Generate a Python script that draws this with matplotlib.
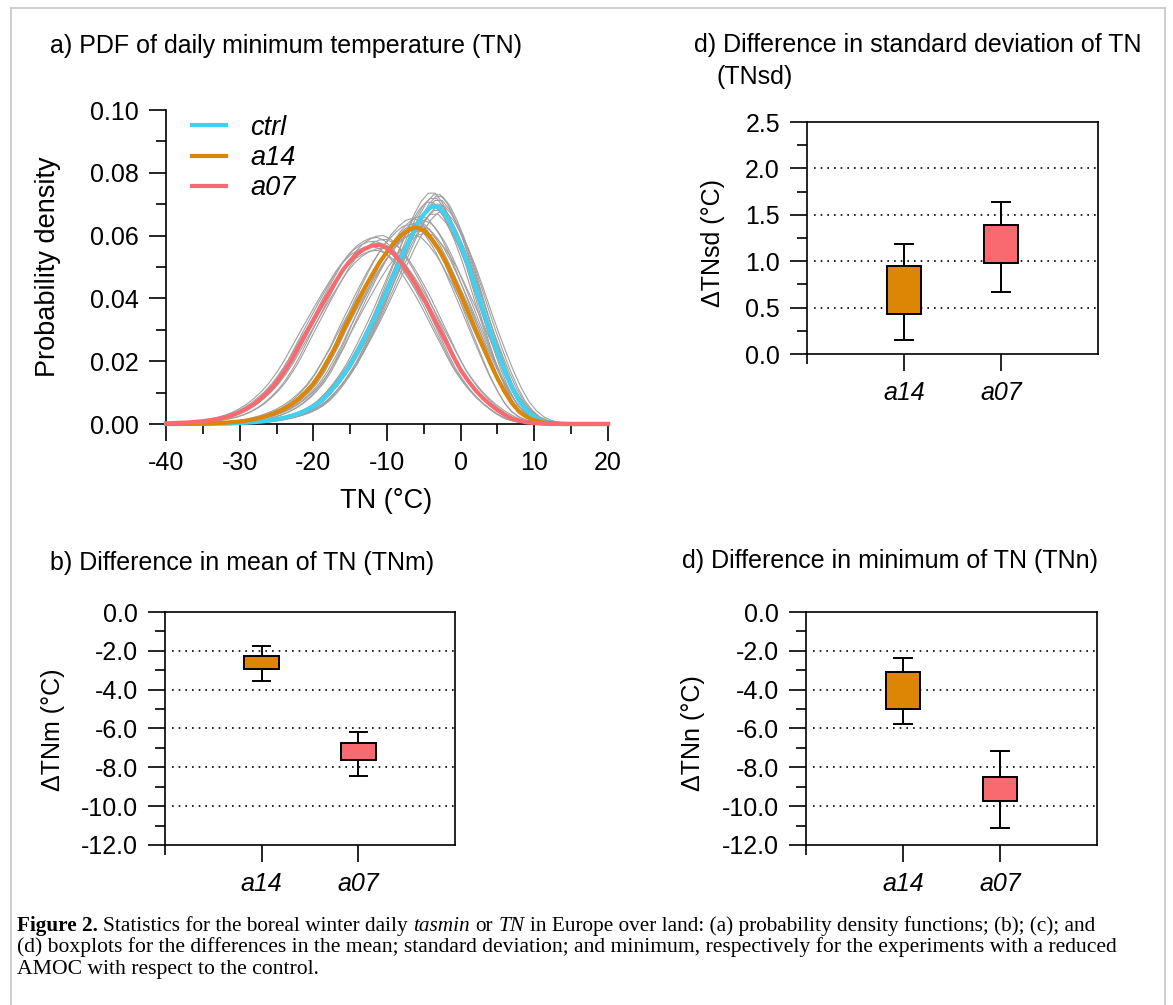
import numpy as np
import matplotlib
matplotlib.use("Agg")
import matplotlib.pyplot as plt
from matplotlib.lines import Line2D
from matplotlib.ticker import MultipleLocator, FormatStrFormatter, FixedLocator

plt.rcParams['font.family'] = ['Liberation Sans', 'DejaVu Sans']
plt.rcParams['axes.unicode_minus'] = False

W, H = 1173, 1005

# ---- panel a: PDFs of TN ----
temp = list(range(-40, 21))
pdf_ctrl = [0, 0, 0, 0, 0, 0, 0, 0.0001, 0.0001, 0.0002, 0.0003, 0.0004, 0.0006, 0.0008,
            0.0011, 0.0015, 0.0020, 0.0026, 0.0033, 0.0043, 0.0055, 0.0072, 0.0095, 0.0122,
            0.0153, 0.0188, 0.0230, 0.0275, 0.0322, 0.0372, 0.0425, 0.0478, 0.0530, 0.0583,
            0.0630, 0.0668, 0.0692, 0.0692, 0.0665, 0.0622, 0.0570, 0.0508, 0.0438, 0.0365,
            0.0295, 0.0230, 0.0168, 0.0115, 0.0072, 0.0042, 0.0022, 0.0011, 0.0005, 0.0002,
            0.0001, 0, 0, 0, 0, 0, 0]
pdf_a14 = [0, 0, 0, 0.0001, 0.0001, 0.0001, 0.0002, 0.0003, 0.0004, 0.0006, 0.0008, 0.0011,
           0.0015, 0.0021, 0.0028, 0.0037, 0.0048, 0.0062, 0.0080, 0.0102, 0.0128, 0.0162,
           0.0203, 0.0245, 0.0295, 0.0342, 0.0388, 0.0433, 0.0476, 0.0515, 0.0548, 0.0578,
           0.0602, 0.0620, 0.0626, 0.0618, 0.0592, 0.0558, 0.0515, 0.0465, 0.0412, 0.0358,
           0.0302, 0.0248, 0.0195, 0.0145, 0.0102, 0.0065, 0.0038, 0.0022, 0.0012, 0.0006,
           0.0003, 0.0001, 0, 0, 0, 0, 0, 0, 0]
pdf_a07 = [0.0002, 0.0003, 0.0004, 0.0005, 0.0007, 0.0009, 0.0012, 0.0016, 0.0021, 0.0028,
           0.0037, 0.0049, 0.0064, 0.0083, 0.0105, 0.0132, 0.0165, 0.0202, 0.0245, 0.0288,
           0.0330, 0.0372, 0.0413, 0.0452, 0.0490, 0.0520, 0.0543, 0.0558, 0.0568, 0.0570,
           0.0560, 0.0540, 0.0512, 0.0478, 0.0440, 0.0400, 0.0355, 0.0308, 0.0262, 0.0215,
           0.0172, 0.0138, 0.0108, 0.0083, 0.0062, 0.0044, 0.0029, 0.0017, 0.0010, 0.0005,
           0.0003, 0.0001, 0, 0, 0, 0, 0, 0, 0, 0, 0]

# ensemble members (grey): peak height and shift of peak (deg C)
ctrl_member_peak = [0.0735, 0.0730, 0.0724, 0.0718, 0.0712, 0.0706, 0.0700, 0.0694,
                    0.0688, 0.0680, 0.0674, 0.0668]
ctrl_member_shift = [-0.4, 0.3, 0.6, -0.2, 0.5, -0.7, 0.2, 0.8, -0.3, 0.4, 1.0, -0.1]
a14_member_peak = [0.0662, 0.0655, 0.0648, 0.0642, 0.0636, 0.0630, 0.0622, 0.0615,
                   0.0608, 0.0602]
a14_member_shift = [0.6, -0.5, 1.0, 0.2, -0.8, 0.7, -0.2, 0.4, 1.3, -0.4]
a07_member_peak = [0.0600, 0.0594, 0.0588, 0.0582, 0.0576, 0.0566, 0.0560, 0.0553]
a07_member_shift = [0.5, -0.3, 0.9, -0.6, 0.2, -0.9, 0.6, -0.2]

# ---- boxplots: [whislo, q1, median, q3, whishi] ----
experiments = ['a14', 'a07']
tnm_a14 = [-3.57, -2.95, -2.49, -2.28, -1.73]
tnm_a07 = [-8.43, -7.63, -7.22, -6.77, -6.19]
tnsd_a14 = [0.15, 0.43, 0.63, 0.95, 1.18]
tnsd_a07 = [0.67, 0.98, 1.19, 1.39, 1.64]
tnn_a14 = [-5.78, -4.99, -4.23, -3.09, -2.38]
tnn_a07 = [-11.13, -9.75, -9.21, -8.50, -7.17]

colors = {'ctrl': '#3dd1f2', 'a14': '#dd8505', 'a07': '#f86a6f'}
grey = '#9f9f9f'

tick_dict = {'direction': 'out', 'width': 1.2, 'labelsize': 18}


def px(x, y):
    return x / W, 1 - y / H


def add_axes(left, top, right, bottom):
    x0, y0 = px(left, bottom)
    x1, y1 = px(right, top)
    return fig.add_axes([x0, y0, x1 - x0, y1 - y0])


def draw_members(ax, curve, peaks, shifts):
    curve = np.array(curve)
    x = np.array(temp, dtype=float)
    xpk = x[np.argmax(curve)]
    for pk, sh in zip(peaks, shifts):
        s = pk / curve.max()
        ax.plot(xpk + (x - xpk) / s + sh, curve * s, color=grey, lw=0.8, zorder=2)


def box_panel(ax, data_a14, data_a07, ylim, major, minor, grid):
    stats = []
    for name, d in zip(experiments, [data_a14, data_a07]):
        stats.append({'label': name, 'whislo': d[0], 'q1': d[1], 'med': d[2],
                      'q3': d[3], 'whishi': d[4], 'fliers': []})
    for v in grid:
        ax.axhline(v, xmin=0.025, xmax=1, color='k', lw=1.2, dashes=(1, 3), zorder=1)
    bp = ax.bxp(stats, positions=[1, 2], widths=0.36, patch_artist=True,
                showfliers=False,
                boxprops={'linewidth': 1.4, 'edgecolor': 'k'},
                medianprops={'color': 'k', 'linewidth': 1.4},
                whiskerprops={'color': 'k', 'linewidth': 1.4},
                capprops={'color': 'k', 'linewidth': 1.4})
    for patch, name in zip(bp['boxes'], experiments):
        patch.set_facecolor(colors[name])
        patch.set_zorder(3)
    ax.set_xlim(0, 3)
    ax.set_ylim(*ylim)
    ax.yaxis.set_major_locator(MultipleLocator(major))
    ax.yaxis.set_minor_locator(MultipleLocator(minor))
    ax.yaxis.set_major_formatter(FormatStrFormatter('%.1f'))
    ax.xaxis.set_major_locator(FixedLocator([1, 2]))
    ax.xaxis.set_minor_locator(FixedLocator([0]))
    ax.set_xticklabels(experiments, fontstyle='italic')
    ax.tick_params(which='major', length=12.5, pad=7, **tick_dict)
    ax.tick_params(which='minor', length=7, **tick_dict)
    for sp in ax.spines.values():
        sp.set_linewidth(1.2)


fig = plt.figure(figsize=(W / 100, H / 100), dpi=100)

# outer frame
for xs, ys in [((11, 11), (1005, 8)), ((11, 1165), (8, 8)), ((1165, 1165), (8, 1005))]:
    p0, p1 = px(xs[0], ys[0]), px(xs[1], ys[1])
    fig.add_artist(Line2D([p0[0], p1[0]], [p0[1], p1[1]], color='#c6c6c6', lw=1.2))

# panel a
ax_a = add_axes(166, 110, 608, 424)
draw_members(ax_a, pdf_ctrl, ctrl_member_peak, ctrl_member_shift)
draw_members(ax_a, pdf_a14, a14_member_peak, a14_member_shift)
draw_members(ax_a, pdf_a07, a07_member_peak, a07_member_shift)
ax_a.plot(temp, pdf_ctrl, color=colors['ctrl'], lw=3, label='ctrl', zorder=4, clip_on=False)
ax_a.plot(temp, pdf_a14, color=colors['a14'], lw=3, label='a14', zorder=4, clip_on=False)
ax_a.plot(temp, pdf_a07, color=colors['a07'], lw=3, label='a07', zorder=4, clip_on=False)
ax_a.set_xlim(-40, 20)
ax_a.set_ylim(0, 0.1)
ax_a.spines['top'].set_visible(False)
ax_a.spines['right'].set_visible(False)
for sp in ax_a.spines.values():
    sp.set_linewidth(1.2)
ax_a.xaxis.set_major_locator(MultipleLocator(10))
ax_a.xaxis.set_minor_locator(MultipleLocator(5))
ax_a.yaxis.set_major_locator(MultipleLocator(0.02))
ax_a.yaxis.set_minor_locator(MultipleLocator(0.01))
ax_a.yaxis.set_major_formatter(FormatStrFormatter('%.2f'))
ax_a.tick_params(which='major', length=12.5, pad=7, **tick_dict)
ax_a.tick_params(which='minor', length=7, **tick_dict)
ax_a.legend(loc='upper left', bbox_to_anchor=(0.059, 0.985), frameon=False,
            prop={'style': 'italic', 'size': 19.5}, handlelength=1.26,
            handletextpad=0.9, labelspacing=0.16, borderpad=0, borderaxespad=0)

# panel d (top right)
ax_d = add_axes(807, 122, 1098, 354)
box_panel(ax_d, tnsd_a14, tnsd_a07, (0, 2.5), 0.5, 0.25, [0.5, 1.0, 1.5, 2.0])

# panel b
ax_b = add_axes(165, 612, 455, 845)
box_panel(ax_b, tnm_a14, tnm_a07, (-12, 0), 2, 1, [-2, -4, -6, -8, -10])

# panel c
ax_c = add_axes(806, 612, 1097, 845)
box_panel(ax_c, tnn_a14, tnn_a07, (-12, 0), 2, 1, [-2, -4, -6, -8, -10])

# titles and axis labels
title_size = 18
for x, y, s in [(50, 46, 'a) PDF of daily minimum temperature (TN)'),
                (694, 45, 'd) Difference in standard deviation of TN'),
                (716, 77, '(TNsd)'),
                (50, 563, 'b) Difference in mean of TN (TNm)'),
                (682, 561, 'd) Difference in minimum of TN (TNn)')]:
    fig.text(*px(x, y), s, size=title_size, ha='left', va='center')

for x, y, s, size in [(48, 267, 'Probability density', 19.5),
                      (713, 243, '\u0394TNsd (\u00b0C)', 18),
                      (53, 730, '\u0394TNm (\u00b0C)', 18),
                      (693, 733, '\u0394TNn (\u00b0C)', 18)]:
    fig.text(*px(x, y), s, size=size, rotation=90, ha='center', va='center')
fig.text(*px(386, 501), 'TN (\u00b0C)', size=19.5, ha='center', va='center')

# caption
renderer = fig.canvas.get_renderer()
cap_font = 'Liberation Serif'
line2 = ('(d) boxplots for the differences in the mean; standard deviation; and minimum, '
         'respectively for the experiments with a reduced')
t2 = fig.text(*px(17, 947), line2, family=cap_font, size=14, va='center')
w2 = t2.get_window_extent(renderer).width
cap_size = 14 * 1105 / w2
t2.set_fontsize(cap_size)
fig.text(*px(17, 969), 'AMOC with respect to the control.', family=cap_font,
         size=cap_size, va='center')

pieces = [('Figure 2.', 'normal', 'bold'),
          ('Statistics for the boreal winter daily', 'normal', 'normal'),
          ('tasmin', 'italic', 'normal'),
          ('or', 'normal', 'normal'),
          ('TN', 'italic', 'normal'),
          ('in Europe over land: (a) probability density functions; (b); (c); and', 'normal', 'normal')]


def write_line1(size):
    probe1 = fig.text(0, 0, 'x x', family=cap_font, size=size)
    probe2 = fig.text(0, 0, 'xx', family=cap_font, size=size)
    space = (probe1.get_window_extent(renderer).width
             - probe2.get_window_extent(renderer).width)
    probe1.remove()
    probe2.remove()
    texts = []
    xpos = 17
    for s, style, weight in pieces:
        t = fig.text(*px(xpos, 926), s, family=cap_font, size=size, style=style,
                     weight=weight, va='center')
        texts.append(t)
        xpos += t.get_window_extent(renderer).width + space
    return texts, xpos - space


texts, end = write_line1(cap_size)
size1 = cap_size * (1092 - 17) / (end - 17)
for t in texts:
    t.remove()
write_line1(size1)

fig.savefig('out.png', dpi=100)
